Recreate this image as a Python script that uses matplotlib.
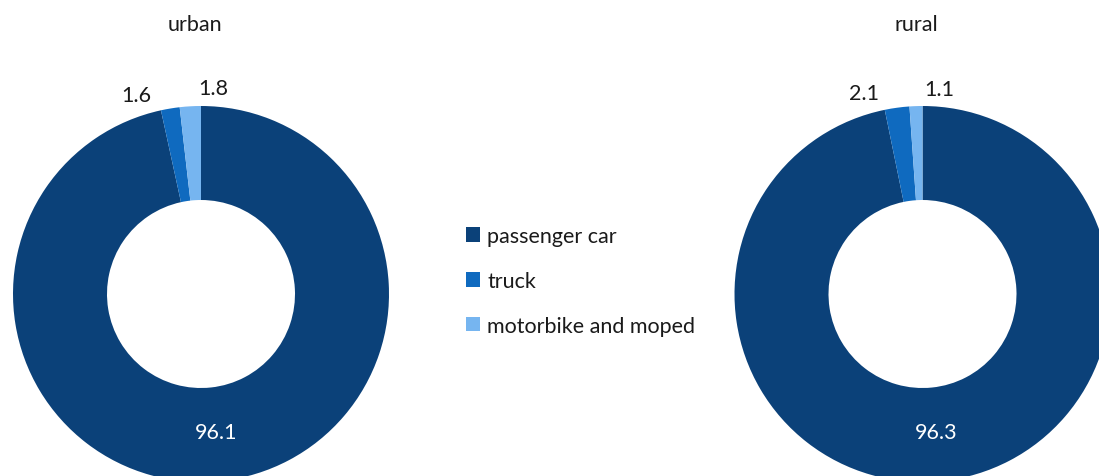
import matplotlib
matplotlib.use("Agg")
import matplotlib.pyplot as plt
import numpy as np

plt.rcParams['font.family'] = ['Lato', 'DejaVu Sans']

categories = ["passenger car", "truck", "motorbike and moped"]
urban = [96.1, 1.6, 1.8]
rural = [96.3, 2.1, 1.1]
titles = ["urban", "rural"]
colors = ["#0B4179", "#0F6ABF", "#76B5F0"]

W, H = 1099, 477
fig = plt.figure(figsize=(W / 100, H / 100), dpi=100)

# label styling: angular spread (deg) and radius for each slice's label
label_spread = [0, 8.5, -6.6]
label_radius = [0.74, 1.115, 1.095]
label_color = ["white", "#1a1a1a", "#1a1a1a"]

R = 188
centers = [(201, 295), (922.5, 295)]
wedges_first = None
for (cx, cy), vals, title in zip(centers, [urban, rural], titles):
    ax = fig.add_axes([(cx - R) / W, (H - cy - R) / H, 2 * R / W, 2 * R / H])
    wedges, _ = ax.pie(vals, colors=colors, startangle=90, counterclock=False,
                       radius=1.0, wedgeprops=dict(width=0.5, linewidth=0))
    if wedges_first is None:
        wedges_first = wedges
    for i, w in enumerate(wedges):
        mid = (w.theta1 + w.theta2) / 2 + label_spread[i]
        r = label_radius[i]
        x = r * np.cos(np.radians(mid))
        y = r * np.sin(np.radians(mid))
        ax.text(x, y, f"{vals[i]:.1f}", ha="center", va="center",
                fontsize=15.5, color=label_color[i])
    ax.set_xlim(-1, 1)
    ax.set_ylim(-1, 1)
    ax.set_aspect("equal")
    ax.axis("off")
    fig.text((cx - 6) / W, 1 - 25 / H, title, ha="center", va="center", fontsize=15.5, color="#1a1a1a")

fig.legend(handles=wedges_first, labels=categories, loc="center left",
           bbox_to_anchor=(466 / W, (H - 282) / H), frameon=False, borderaxespad=0,
           fontsize=15.5, handlelength=0.66, handleheight=0.66, handletextpad=0.33,
           labelspacing=1.15, borderpad=0, labelcolor="#1a1a1a")

fig.savefig("out.png", dpi=100)
